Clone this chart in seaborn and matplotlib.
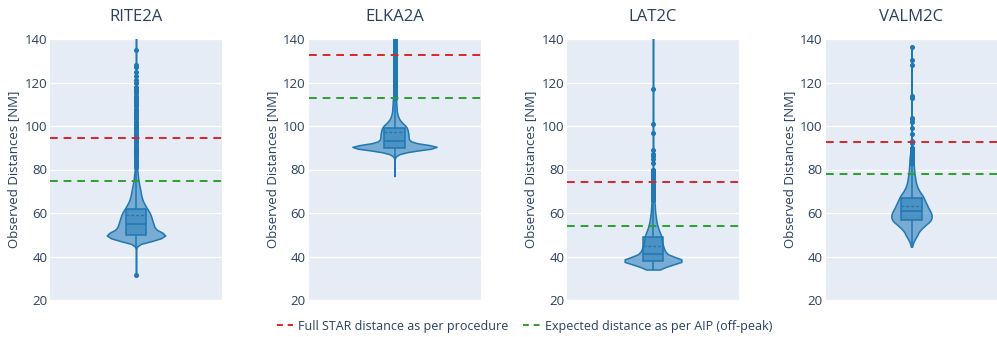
import numpy as np
import pandas as pd
import matplotlib
matplotlib.use("Agg")
import matplotlib.pyplot as plt
from matplotlib.lines import Line2D
import seaborn as sns

# routes and reference distances (NM)
routes = ["RITE2A", "ELKA2A", "LAT2C", "VALM2C"]
full_star = [94.7, 132.8, 74.2, 92.8]
expected_aip = [74.7, 112.7, 54.2, 77.8]

# observed distances, as value -> number of flights
rite_vals = [31.5, 44, 45, 46, 47, 48, 49, 50, 51, 52, 53, 54, 55, 56, 57, 58, 59, 60,
             61, 62, 63, 64, 65, 66, 67, 68, 69, 70, 71, 72, 73, 74, 75, 76, 77, 78, 79, 80,
             81, 82, 83, 84, 85, 86, 87, 88, 89, 90, 91, 92, 93, 94, 95, 96, 97, 98, 99, 100,
             101, 102, 103, 104, 105, 106, 107, 108, 109, 110, 111, 112, 113, 114, 115, 116,
             117, 118, 120, 121, 123, 125, 127, 128, 135, 145, 160]
rite_counts = [1, 1, 2, 7, 40, 58, 70, 78, 65, 50, 46, 44, 43, 41, 39, 38, 36, 34,
               31, 27, 24, 21, 18, 16, 14, 13, 12, 11, 10, 9, 8, 7, 6, 5, 5, 4, 4, 3,
               2, 2, 1, 2, 1, 2, 1, 2, 1, 2, 1, 2, 1, 2, 1, 2, 1, 2, 1, 2,
               1, 2, 1, 2, 1, 1, 1, 1, 1, 1, 1, 1, 1, 1, 1, 1,
               1, 1, 1, 1, 1, 1, 1, 1, 1, 1, 1]

elka_vals = [77, 84, 86, 87, 88, 89, 90, 91, 92, 93, 94, 95, 96, 97, 98, 99, 100, 101,
             102, 103, 104, 105, 106, 107, 108, 109, 110, 111, 112, 113, 114, 115, 116,
             117, 118, 119, 120, 121, 122, 123, 124, 125, 126, 127, 128, 129, 130, 131,
             132, 133, 134, 135, 136, 137, 138, 139, 140, 143, 146, 150, 155, 160]
elka_counts = [1, 1, 2, 8, 25, 60, 110, 95, 45, 35, 32, 32, 32, 31, 30, 29, 26, 20,
               15, 11, 9, 7, 6, 5, 5, 5, 4, 4, 4, 3, 3, 2, 2,
               2, 2, 2, 2, 2, 2, 2, 2, 2, 2, 2, 2, 2, 2, 2,
               2, 2, 2, 2, 2, 2, 2, 2, 2, 1, 1, 1, 1, 1]

lat_vals = [34, 35, 36, 37, 38, 39, 40, 41, 42, 43, 44, 45, 46, 47, 48, 49, 50, 51, 52,
            53, 54, 55, 56, 57, 58, 59, 60, 61, 62, 63, 64, 65, 66, 67, 68, 69, 70, 71,
            72, 73, 74, 75, 76, 77, 78, 79, 80, 83, 85, 86, 87, 89, 97, 101, 117, 150]
lat_counts = [25, 40, 60, 90, 110, 95, 70, 50, 44, 40, 37, 35, 33, 31, 29, 30, 27, 24, 21,
              18, 16, 14, 12, 11, 10, 9, 8, 7, 7, 6, 6, 5, 4, 4, 3, 2, 2, 2,
              2, 2, 2, 2, 2, 2, 2, 2, 2, 1, 1, 1, 1, 1, 1, 1, 1, 1]

valm_vals = [44.5, 45, 46, 47, 48, 49, 50, 51, 52, 53, 54, 55, 56, 57, 58, 59, 60, 61, 62,
             63, 64, 65, 66, 67, 68, 69, 70, 71, 72, 73, 74, 75, 76, 77, 78, 79, 80, 81,
             82, 83, 84, 85, 86, 87, 88, 89, 90, 92, 93, 96.5, 99, 102, 103, 103.5, 113,
             114, 128, 130.5, 136.5]
valm_counts = [1, 2, 4, 7, 10, 14, 18, 20, 25, 31, 38, 45, 54, 58, 60, 60, 58, 55, 51,
               48, 45, 42, 39, 36, 33, 28, 24, 20, 17, 15, 13, 12, 11, 10, 9, 8, 8, 7,
               7, 6, 6, 6, 5, 4, 4, 3, 2, 1, 1, 1, 1, 1, 1, 1, 1,
               1, 1, 1, 1]

data = {
    "RITE2A": np.repeat(rite_vals, rite_counts),
    "ELKA2A": np.repeat(elka_vals, elka_counts),
    "LAT2C": np.repeat(lat_vals, lat_counts),
    "VALM2C": np.repeat(valm_vals, valm_counts),
}
violin_w = [0.34, 0.49, 0.33, 0.235]

blue = "#1f77b4"
txt = "#2a3f5f"
sns.set_style("white")
plt.rcParams["font.family"] = ["Open Sans", "DejaVu Sans"]

fig = plt.figure(figsize=(9.97, 3.37), dpi=100)
lefts = [50, 308.5, 567, 825.5]
for i, r in enumerate(routes):
    ax = fig.add_axes([lefts[i] / 997, 1 - 300 / 337, 172 / 997, 261 / 337])
    ax.set_facecolor("#e5ecf6")
    df = pd.DataFrame({"dist": data[r]})
    sns.violinplot(data=df, y="dist", ax=ax, inner=None, cut=0, density_norm="width",
                   width=violin_w[i], bw_adjust=0.25, color=blue, saturation=1,
                   linecolor=blue, linewidth=1.1)
    for c in ax.collections:
        c.set_facecolor((0.12, 0.47, 0.71, 0.55))
        c.set_edgecolor(blue)
    sns.boxplot(data=df, y="dist", ax=ax, width=0.122, color=blue, saturation=1,
                linecolor=blue, linewidth=1.1, showcaps=False, showmeans=True, meanline=True,
                boxprops=dict(facecolor=(0.12, 0.47, 0.71, 0.5), zorder=3),
                meanprops=dict(color=blue, linestyle=(0, (2, 1.5)), linewidth=1),
                flierprops=dict(marker="o", markersize=2.6, markerfacecolor=blue,
                                markeredgecolor=blue))
    ax.axhline(full_star[i], color="#d62728", linestyle=(0, (4, 3)), linewidth=1.4, zorder=4)
    ax.axhline(expected_aip[i], color="#2ca02c", linestyle=(0, (4, 3)), linewidth=1.4, zorder=4)
    ax.set_ylim(20, 140)
    ax.set_xlim(-0.5, 0.5)
    ax.set_yticks(range(20, 141, 20))
    ax.set_xticks([])
    ax.set_xlabel("")
    ax.grid(axis="y", color="white", linewidth=1)
    ax.set_axisbelow(True)
    for s in ax.spines.values():
        s.set_visible(False)
    ax.tick_params(axis="y", length=0, pad=2, labelsize=9.5, labelcolor=txt)
    ax.set_ylabel("Observed Distances [NM]", fontsize=9.5, color=txt, labelpad=3)
    ax.set_title(r, fontsize=12, color=txt, pad=13)

handles = [Line2D([0], [0], color="#d62728", linestyle=(0, (3, 2.5)), linewidth=1.4),
           Line2D([0], [0], color="#2ca02c", linestyle=(0, (3, 2.5)), linewidth=1.4)]
fig.legend(handles, ["Full STAR distance as per procedure",
                     "Expected distance as per AIP (off-peak)"],
           loc="center", bbox_to_anchor=(0.526, 0.032), ncol=2, frameon=False,
           fontsize=9, labelcolor=txt, handlelength=1.3, handletextpad=0.4, columnspacing=1.2)

fig.savefig("out.png", dpi=100)
